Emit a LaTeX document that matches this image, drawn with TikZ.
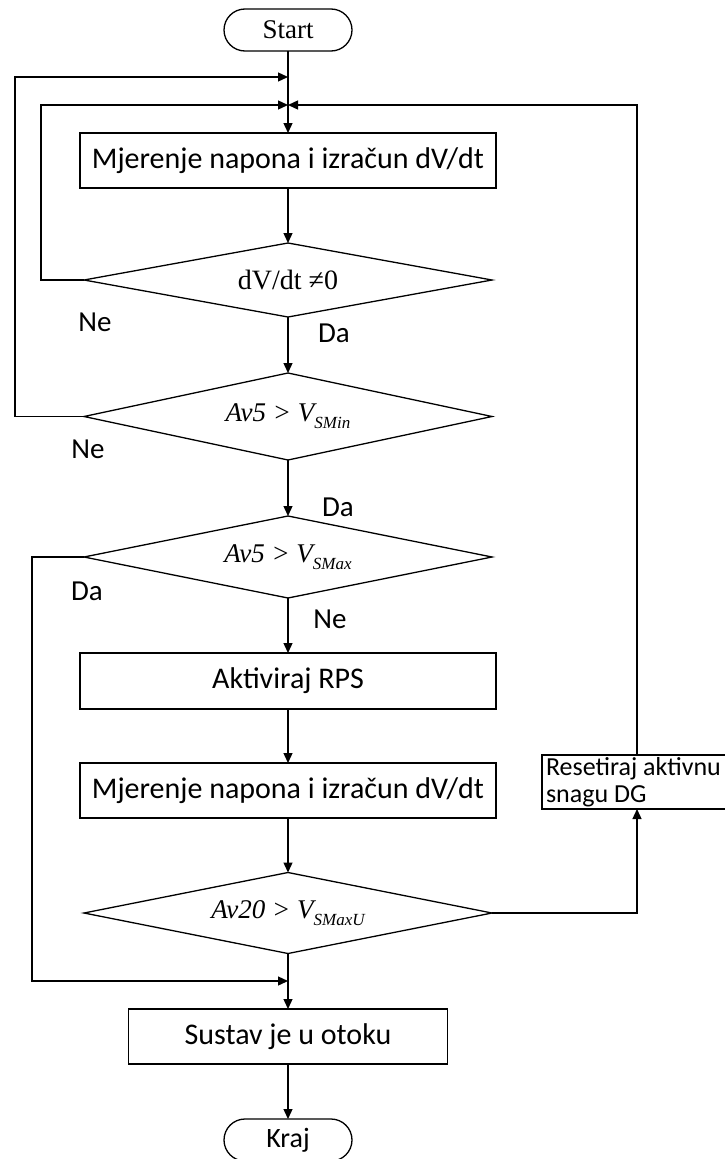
\documentclass[tikz,border=0pt]{standalone}
\usepackage{fontspec}
\setmainfont{Liberation Serif}
\newfontfamily\calfont{Carlito}
\usetikzlibrary{shapes.geometric,arrows.meta}
\newcommand\lowsub[1]{\raisebox{-7pt}{\fontsize{17}{17}\selectfont #1}}
\begin{document}
\begin{tikzpicture}[x=1pt,y=-1pt,
  line width=1.3pt,
  arr/.style={-{Triangle[length=10pt,width=9pt]}},
  procbox/.style={draw, rectangle, minimum height=55pt, inner sep=0pt, outer sep=0pt, font=\calfont\fontsize{30}{32}\selectfont},
  term/.style={draw, rectangle, rounded corners=21pt, minimum width=128pt, minimum height=42pt, inner sep=0pt, outer sep=0pt},
  dec/.style={draw, diamond, aspect=6, inner sep=0pt, outer sep=0pt, minimum width=408pt, font=\fontsize{27}{29}\selectfont},
  lbl/.style={font=\calfont\fontsize{29}{30}\selectfont, inner sep=0pt}
]
\useasboundingbox (0,0) rectangle (724,1159);

\node[term, font=\fontsize{27}{29}\selectfont] (start) at (288,30) {Start};
\node[procbox, minimum width=416pt] (b1) at (288,160.5) {Mjerenje napona i izračun dV/dt};
\node[dec, minimum height=74pt, font=\fontsize{28}{30}\selectfont] (d1) at (288,280) {dV/dt ≠0};
\node[dec, minimum height=87pt] (d2) at (288,416.5) {\itshape Av5 > V\lowsub{SMin}};
\node[dec, minimum height=82pt] (d3) at (288,557) {\itshape Av5 > V\lowsub{SMax}};
\node[procbox, minimum width=416pt, minimum height=56pt] (b2) at (288,681) {Aktiviraj RPS};
\node[procbox, minimum width=416pt] (b3) at (288,790.5) {Mjerenje napona i izračun dV/dt};
\node[dec, minimum height=81pt] (d4) at (288,913) {\itshape Av20 > V\lowsub{SMaxU}};
\node[procbox, minimum width=319pt] (b4) at (288,1036.5) {Sustav je u otoku};
\node[term, font=\calfont\fontsize{28}{30}\selectfont] (kraj) at (288,1140) {Kraj};
\node[draw, rectangle, text width=182pt, align=flush left, inner xsep=4pt, inner ysep=0pt, outer sep=0pt,
      minimum height=54pt, font=\calfont\fontsize{26}{27}\selectfont] (reset) at (637,782) {Resetiraj aktivnu\\snagu DG};

\coordinate (m1) at (288,77);
\coordinate (m2) at (288,105);
\coordinate (m3) at (288,981);

\draw[arr] (start) -- (b1);
\draw[arr] (b1) -- (d1);
\draw[arr] (d1) -- (d2);
\draw[arr] (d2) -- (d3);
\draw[arr] (d3) -- (b2);
\draw[arr] (b2) -- (b3);
\draw[arr] (b3) -- (d4);
\draw[arr] (d4) -- (b4);
\draw[arr] (b4) -- (kraj);

\draw[arr] (d1.west) -- ++(-43,0) |- (m2);
\draw[arr] (d2.west) -- ++(-69,0) |- (m1);
\draw[arr] (d3.west) -- ++(-52,0) |- (m3);
\draw[arr] (d4.east) -| (reset.south);
\draw[arr] (reset.north) |- (m2);

\node[lbl] (ne1) at (95,322) {Ne};
\node[lbl] (da1) at (334,333) {Da};
\node[lbl] (ne2) at (88,449) {Ne};
\node[lbl] (da2) at (338,507) {Da};
\node[lbl] (da3) at (87,591) {Da};
\node[lbl] (ne3) at (330,619) {Ne};
\end{tikzpicture}
\end{document}
